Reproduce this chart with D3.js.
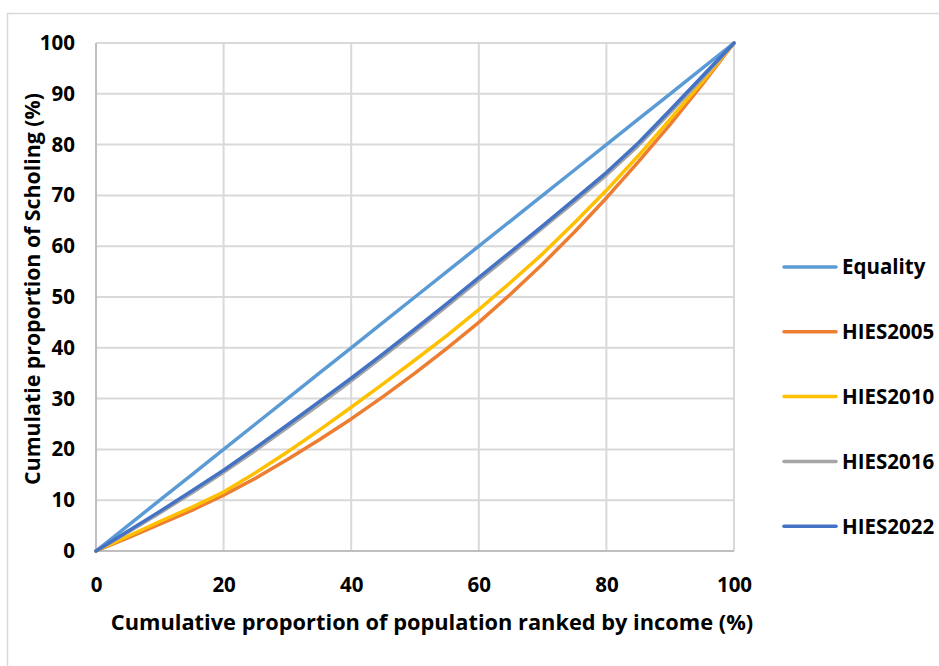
<!DOCTYPE html>
<html><head><meta charset="utf-8">
<script src="https://cdn.jsdelivr.net/npm/d3@7"></script>
<style>body{margin:0;background:#fff;} svg{display:block;font-family:"Open Sans","Liberation Sans",sans-serif;}</style>
</head><body>
<svg id="c" width="939" height="666"></svg>
<script>
const xValues = [0, 5, 10, 15, 20, 25, 30, 35, 40, 45, 50, 55, 60, 65, 70, 75, 80, 85, 90, 95, 100];
const equality = [0, 5, 10, 15, 20, 25, 30, 35, 40, 45, 50, 55, 60, 65, 70, 75, 80, 85, 90, 95, 100];
const hies2005 = [0, 2.6, 5.3, 8.0, 11.0, 14.3, 18.0, 21.9, 26.0, 30.4, 35.0, 39.9, 45.0, 50.6, 56.5, 62.8, 69.5, 76.6, 84.0, 91.8, 100];
const hies2010 = [0, 2.9, 5.8, 8.6, 11.6, 15.4, 19.5, 23.8, 28.3, 32.9, 37.6, 42.4, 47.5, 52.9, 58.5, 64.6, 71.0, 77.8, 85.0, 92.3, 100];
const hies2016 = [0, 3.7, 7.5, 11.4, 15.5, 19.8, 24.3, 28.8, 33.5, 38.3, 43.2, 48.2, 53.3, 58.4, 63.6, 68.7, 74.0, 79.8, 86.3, 93.0, 100];
const hies2022 = [0, 3.9, 7.8, 11.8, 15.9, 20.3, 24.8, 29.4, 34.0, 38.8, 43.7, 48.7, 53.8, 58.9, 64.0, 69.2, 74.5, 80.3, 86.8, 93.4, 100];
const seriesNames = ["Equality", "HIES2005", "HIES2010", "HIES2016", "HIES2022"];
const seriesColors = ["#5b9bd5", "#ed7d31", "#ffc000", "#a5a5a5", "#4472c4"];
const xTicks = [0, 20, 40, 60, 80, 100];
const yTicks = [0, 10, 20, 30, 40, 50, 60, 70, 80, 90, 100];
const xTitle = "Cumulative proportion of population ranked by income (%)";
const yTitle = "Cumulatie proportion of Scholing (%)";

const svg = d3.select("#c");
// outer border
svg.append("rect").attr("x", 7.5).attr("y", 13.5).attr("width", 960).attr("height", 700)
  .attr("fill", "none").attr("stroke", "#d9d9d9").attr("stroke-width", 1.5);

const x = d3.scaleLinear().domain([0, 100]).range([96, 734]);
const y = d3.scaleLinear().domain([0, 100]).range([551, 43]);

// grid
svg.append("g").selectAll("line").data(yTicks).join("line")
  .attr("x1", x(0)).attr("x2", x(100)).attr("y1", d => y(d)).attr("y2", d => y(d))
  .attr("stroke", "#d9d9d9").attr("stroke-width", 2);
svg.append("g").selectAll("line").data(xTicks).join("line")
  .attr("y1", y(0)).attr("y2", y(100)).attr("x1", d => x(d)).attr("x2", d => x(d))
  .attr("stroke", "#d9d9d9").attr("stroke-width", 2);
// axes lines
svg.append("line").attr("x1", x(0)).attr("x2", x(100)).attr("y1", y(0)).attr("y2", y(0)).attr("stroke", "#bfbfbf").attr("stroke-width", 2);
svg.append("line").attr("x1", x(0)).attr("x2", x(0)).attr("y1", y(0)).attr("y2", y(100)).attr("stroke", "#bfbfbf").attr("stroke-width", 2);

// tick labels
const xAxis = d3.axisBottom(x).tickValues(xTicks).tickSize(0).tickPadding(0);
const gx = svg.append("g").attr("transform", `translate(0,${y(0) + 26})`).call(xAxis);
gx.select(".domain").remove();
gx.selectAll("text").attr("font-size", 20.5).attr("font-weight", "bold").attr("fill", "#000")
  .attr("font-family", "'Open Sans','Liberation Sans',sans-serif").attr("dy", "0.71em");
const yAxis = d3.axisLeft(y).tickValues(yTicks).tickSize(0).tickPadding(0);
const gy = svg.append("g").attr("transform", `translate(${x(0) - 21},0)`).call(yAxis);
gy.select(".domain").remove();
gy.selectAll("text").attr("font-size", 20.5).attr("font-weight", "bold").attr("fill", "#000")
  .attr("font-family", "'Open Sans','Liberation Sans',sans-serif");

// lines
const allSeries = [equality, hies2005, hies2010, hies2016, hies2022];
const line = d3.line().x((d, i) => x(xValues[i])).y(d => y(d));
const drawOrder = [0, 1, 2, 3, 4];
svg.append("g").selectAll("path").data(drawOrder).join("path")
  .attr("d", i => line(allSeries[i]))
  .attr("fill", "none").attr("stroke", i => seriesColors[i]).attr("stroke-width", 3.5)
  .attr("stroke-linejoin", "round").attr("stroke-linecap", "round");

// legend
const leg = svg.append("g");
seriesNames.forEach((n, i) => {
  const ly = 267 + i * 64.8;
  leg.append("line").attr("x1", 784).attr("x2", 836).attr("y1", ly).attr("y2", ly)
    .attr("stroke", seriesColors[i]).attr("stroke-width", 3.5).attr("stroke-linecap", "round");
  leg.append("text").attr("x", 842).attr("y", ly).attr("dy", "0.36em")
    .attr("font-size", 20.5).attr("font-weight", "bold").text(n);
});

// titles
svg.append("text").attr("x", 432).attr("y", 622).attr("dy", "0.36em").attr("text-anchor", "middle")
  .attr("font-size", 21.8).attr("font-weight", "bold").text(xTitle);
svg.append("text").attr("transform", `translate(32,289) rotate(-90)`).attr("dy", "0.36em").attr("text-anchor", "middle")
  .attr("font-size", 21.3).attr("font-weight", "bold").text(yTitle);
</script>
</body></html>
